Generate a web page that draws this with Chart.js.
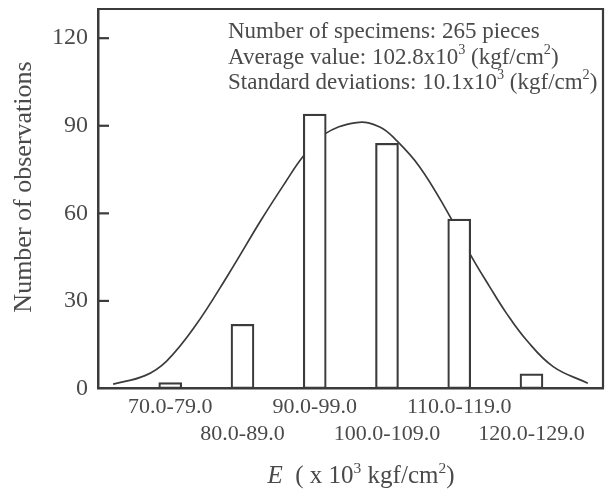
<!DOCTYPE html>
<html>
<head>
<meta charset="utf-8">
<script src="https://cdn.jsdelivr.net/npm/chart.js@4"></script>
<style>
  html, body { margin: 0; padding: 0; background: #fff; }
  #wrap { width: 607px; height: 500px; }
</style>
</head>
<body>
<div id="wrap"><canvas id="histChart" width="607" height="500"></canvas></div>
<script>
// histogram bins
const binLabels = ['70.0-79.0', '80.0-89.0', '90.0-99.0', '100.0-109.0', '110.0-119.0', '120.0-129.0'];
const binCenters = [74.5, 84.5, 94.5, 104.5, 114.5, 124.5];
const counts = [2, 22, 94, 84, 58, 5];

// fitted curve
const curveX = [66.6, 71.0, 74.0, 77.9, 82.5, 87.1, 90.4, 92.8, 95.6, 100.3, 103.5, 105.8, 109.0, 112.7, 116.2, 118.7, 121.0, 123.8, 127.5, 132.3];
const curveY = [1.5, 4.4, 9.4, 21.2, 38.9, 57.8, 70.5, 79.2, 86.8, 91.1, 89.6, 85.0, 76.0, 61.2, 45.2, 34.9, 25.9, 16.6, 7.5, 1.8];

const yTicks = [0, 30, 60, 90, 120];

// text runs: [text, superscript?, italic?]
const infoLines = [
    [['Number of specimens: 265 pieces']],
    [['Average value: 102.8x10'], ['3', true], [' (kgf/cm'], ['2', true], [')']],
    [['Standard deviations: 10.1x10'], ['3', true], [' (kgf/cm'], ['2', true], [')']]
];
const yTitle = 'Number of observations';
const xTitle = [['E', false, true], ['  ( x 10'], ['3', true], [' kgf/cm'], ['2', true], [')']];

const ink = '#3b3b3b';
const textInk = '#4a4a4a';
const serif = '"Liberation Serif", "DejaVu Serif", serif';

function runsWidth(ctx, runs, size) {
    let w = 0;
    runs.forEach(r => {
        const s = r[1] ? size * 0.62 : size;
        ctx.font = (r[2] ? 'italic ' : '') + s + 'px ' + serif;
        w += ctx.measureText(r[0]).width;
    });
    return w;
}

function drawRuns(ctx, x, y, runs, size) {
    runs.forEach(r => {
        const s = r[1] ? size * 0.62 : size;
        ctx.font = (r[2] ? 'italic ' : '') + s + 'px ' + serif;
        ctx.fillText(r[0], x, r[1] ? y - size * 0.42 : y);
        x += ctx.measureText(r[0]).width;
    });
}

const decorPlugin = {
    id: 'decor',
    afterDatasetsDraw(chart) {
        const ctx = chart.ctx;
        const a = chart.chartArea;
        const ys = chart.scales.y;
        ctx.save();
        ctx.strokeStyle = ink;
        ctx.lineWidth = 2.2;
        ctx.beginPath();
        ctx.moveTo(a.left, a.top);
        ctx.lineTo(a.right, a.top);
        ctx.lineTo(a.right, a.bottom);
        ctx.stroke();
        // inward tick marks on y axis
        yTicks.forEach(v => {
            if (v === 0) return;
            const py = ys.getPixelForValue(v);
            ctx.beginPath();
            ctx.moveTo(a.left, py);
            ctx.lineTo(a.left + 11, py);
            ctx.stroke();
        });
        ctx.fillStyle = textInk;
        ctx.textBaseline = 'alphabetic';
        ctx.textAlign = 'left';
        infoLines.forEach((runs, i) => drawRuns(ctx, 228, 38 + i * 25.5, runs, 23));
        // x title
        const w = runsWidth(ctx, xTitle, 25);
        drawRuns(ctx, 361 - w / 2, 483, xTitle, 25);
        // y title
        ctx.translate(24, 187);
        ctx.rotate(-Math.PI / 2);
        ctx.textAlign = 'center';
        ctx.textBaseline = 'middle';
        ctx.font = '26px ' + serif;
        ctx.fillText(yTitle, 0, 0);
        ctx.restore();
    }
};

new Chart(document.getElementById('histChart').getContext('2d'), {
    type: 'bar',
    data: {
        datasets: [
            {
                type: 'bar',
                data: binCenters.map((x, i) => ({ x: x, y: counts[i] })),
                backgroundColor: '#ffffff',
                borderColor: ink,
                borderWidth: 2.2,
                barThickness: 23,
                borderSkipped: false
            },
            {
                type: 'line',
                data: curveX.map((x, i) => ({ x: x, y: curveY[i] })),
                borderColor: ink,
                borderWidth: 1.7,
                pointRadius: 0,
                tension: 0.4,
                fill: false
            }
        ]
    },
    options: {
        responsive: false,
        animation: false,
        devicePixelRatio: 1,
        layout: { padding: { top: 9, right: 4, left: 0, bottom: 0 } },
        plugins: { legend: { display: false }, tooltip: { enabled: false } },
        scales: {
            x: {
                type: 'linear',
                offset: false,
                min: 64.5,
                max: 134.4,
                grid: { display: false, drawTicks: false, offset: false },
                border: { display: true, color: ink, width: 2.5 },
                afterBuildTicks: s => { s.ticks = binCenters.map(v => ({ value: v })); },
                afterFit: s => {
                    s.height = 111.5;
                    s.paddingLeft = 0;
                    s.paddingRight = 0;
                },
                ticks: {
                    padding: 6,
                    color: textInk,
                    autoSkip: false,
                    maxRotation: 0,
                    font: { family: serif, size: 22 },
                    callback: (v, i) => i % 2 ? ['', binLabels[i]] : binLabels[i]
                }
            },
            y: {
                min: 0,
                max: 130,
                grid: { display: false, drawTicks: false },
                border: { display: true, color: ink, width: 2.5 },
                afterBuildTicks: s => { s.ticks = yTicks.map(v => ({ value: v })); },
                afterFit: s => {
                    s.width = 98;
                    s.paddingTop = 0;
                    s.paddingBottom = 0;
                },
                ticks: {
                    padding: 10,
                    color: textInk,
                    font: { family: serif, size: 24 }
                }
            }
        }
    },
    plugins: [decorPlugin]
});
</script>
</body>
</html>
